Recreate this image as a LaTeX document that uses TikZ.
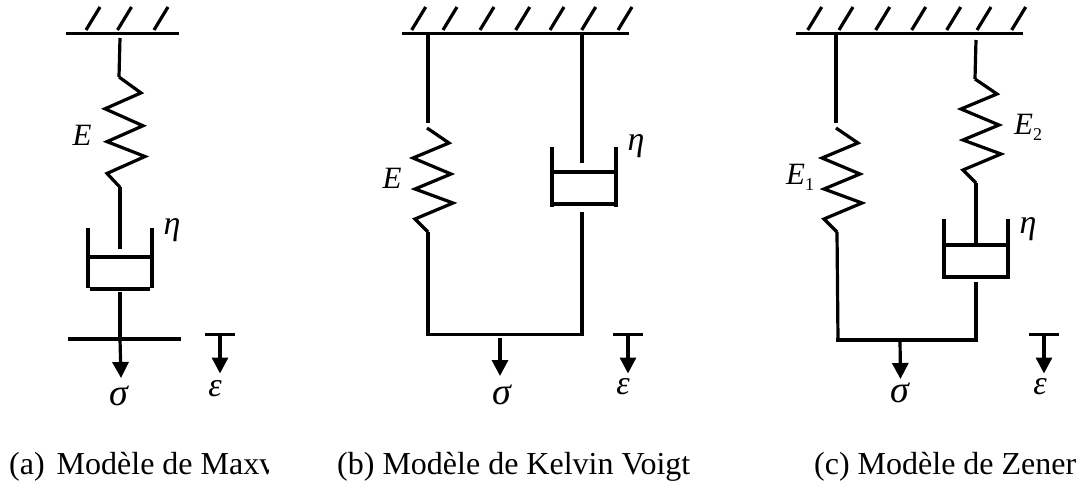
\documentclass[tikz,border=0pt]{standalone}
\usepackage{fontspec}
\setmainfont{Liberation Serif}
\usetikzlibrary{arrows.meta}
\tikzstyle{wire} = [line width=3.2pt, line cap=butt, line join=miter]
\tikzstyle{arrow} = [line width=3.2pt, -{Triangle[length=16pt, width=16pt]}]
\tikzstyle{symb} = [inner sep=0pt, font=\fontsize{31}{31}\selectfont\itshape]
\tikzstyle{greek} = [inner sep=0pt, font=\fontsize{34}{34}\selectfont\itshape]
\tikzstyle{stress} = [inner sep=0pt, font=\fontsize{38}{38}\selectfont\itshape]
\tikzstyle{caption} = [inner sep=0pt, anchor=base west, font=\fontsize{32}{32}\selectfont]
\newcommand{\lowdigit}[1]{\raisebox{-6pt}{\fontsize{18}{18}\selectfont\upshape #1}}
\tikzset{
    pics/spring/.style={
        code={
            \coordinate (-top) at (0,0);
            \coordinate (-bot) at (1,104);
            \draw[wire] (-top) -- (22,15) -- (-14,30) -- (24,46) -- (-12,61) -- (26,75) -- (-12,91) -- (-bot);
        }
    },
    pics/dashpot/.style={
        code={
            \coordinate (-top) at (0,#1-8);
            \coordinate (-plate) at (0,#1);
            \coordinate (-bot) at (0,64);
            \draw[wire] (-32,0) -- (-32,60);
            \draw[wire] (32,0) -- (32,60);
            \draw[wire] (-30,#1) -- (30,#1);
            \draw[wire] (-30,#1+32) -- (30,#1+32);
        }
    },
    pics/strain/.style={
        code={
            \coordinate (-bar) at (0,0);
            \coordinate (-tip) at (0,39);
            \draw[wire] (-15,0) -- (15,0);
            \draw[arrow] (-bar) -- (-tip);
        }
    },
}

\begin{document}
\begin{tikzpicture}[x=1pt, y=-1pt]
    \useasboundingbox (0,0) rectangle (1080,484);

    % Maxwell
    \draw[wire] (66,33.5) -- (179,33.5);
    \foreach \x in {86,117.5,154} {\draw[wire] (\x,30) -- ++(14,-23);}
    \pic[yscale=1.06] (springA) at (119,77) {spring};
    \pic (potA) at (120,228) {dashpot=29};
    \coordinate (plateA) at (120,339);
    \coordinate (tipA) at (121,378);
    \draw[wire] (68,339) -- (181,339);
    \draw[wire] (120,38) -- (springA-top);
    \draw[wire] (springA-bot) -- (potA-top);
    \draw[wire] (potA-bot) -- (plateA);
    \draw[arrow] (plateA) -- (tipA);
    \pic (strainA) at (220,334.5) {strain};
    \node (sigmaA) [stress] at (119,396) {σ};
    \node (epsA) [greek] at (215,389) {ε};
    \node (modA) [symb] at (82,135) {E};
    \node (etaA) [greek] at (172,230) {η};

    % Kelvin Voigt
    \coordinate (wallB) at (428,33.5);
    \draw[wire] (402,33.5) -- (629,33.5);
    \foreach \x in {411.7,443,480,515.7,550,581.7,618} {\draw[wire] (\x,30) -- ++(14,-23);}
    \pic (springB) at (427,128) {spring};
    \pic (potB) at (584,147) {dashpot=25};
    \coordinate (plateBl) at (428,336);
    \coordinate (plateBr) at (582,333);
    \coordinate (forkB) at (500,338);
    \coordinate (tipB) at (500,376);
    \draw[wire] (wallB) -- (428,123);
    \draw[wire] (springB-bot) -- (plateBl);
    \draw[wire] (582,34) -- (582,163);
    \draw[wire] (582,212) -- (plateBr);
    \draw[wire] (426.4,334.5) -- (583.6,334.5);
    \draw[arrow] (forkB) -- (tipB);
    \pic (strainB) at (628,334.5) {strain};
    \node (sigmaB) [stress] at (502,395) {σ};
    \node (epsB) [greek] at (623,387) {ε};
    \node (modB) [symb] at (392,178) {E};
    \node (etaB) [greek] at (636,146) {η};

    % Zener
    \coordinate (wallC) at (836,33.5);
    \draw[wire] (796,33.5) -- (1023,33.5);
    \foreach \x in {807.7,839,875.7,911.7,946.7,977,1011.7} {\draw[wire] (\x,30) -- ++(14,-23);}
    \pic (springC) at (836,128) {spring};
    \pic (springD) at (975,79) {spring};
    \pic (potC) at (976,219) {dashpot=26};
    \coordinate (plateCl) at (838,340);
    \coordinate (plateCr) at (976,340);
    \coordinate (forkC) at (900,340);
    \coordinate (tipC) at (900.5,379);
    \draw[wire] (wallC) -- (836,123);
    \draw[wire] (springC-bot) -- (plateCl);
    \draw[wire] (976,40) -- (springD-top);
    \draw[wire] (springD-bot) -- (potC-plate);
    \draw[wire] (976,282) -- (plateCr);
    \draw[wire] (836.4,340) -- (977.6,340);
    \draw[arrow] (forkC) -- (tipC);
    \pic (strainC) at (1044,334.5) {strain};
    \node (sigmaC) [stress] at (900,393) {σ};
    \node (epsC) [greek] at (1040,387) {ε};
    \node (modC) [symb, anchor=base west] at (786,185) {E\lowdigit{1}};
    \node (modD) [symb, anchor=base west] at (1014,135) {E\lowdigit{2}};
    \node (etaC) [greek] at (1028,229) {η};

    % captions
    \begin{scope}
        \clip (0,440) rectangle (268,484);
        \node (capA) [caption] at (9,474) {(a)\kern12pt Modèle de Maxv};
    \end{scope}
    \node (capB) [caption] at (337,474) {(b) Modèle de Kelvin Voigt};
    \node (capC) [caption] at (814,474) {(c) Modèle de Zener};
\end{tikzpicture}
\end{document}
